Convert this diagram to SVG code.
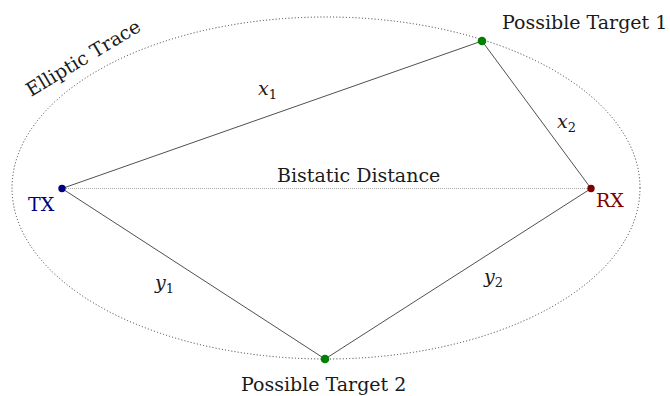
<svg xmlns="http://www.w3.org/2000/svg" width="670" height="396" viewBox="0 0 670 396">
  <style>
    text { font-family: "DejaVu Serif", "Liberation Serif", serif; font-size: 19px; fill: #1a1a1a; }
    .math { font-style: italic; }
    .sub { font-size: 13px; font-style: normal; }
    .edge { stroke: #3c3c3c; stroke-width: 0.9; fill: none; }
    .trace { stroke: #333; stroke-width: 1; stroke-dasharray: 1 2.2; fill: none; }
    .baseline { stroke: #aaa; stroke-width: 1; stroke-dasharray: 1 1; fill: none; }
  </style>
  <rect width="670" height="396" fill="#fff"/>

  <!-- elliptic trace with TX and RX as foci -->
  <g id="trace">
    <ellipse class="trace" cx="326" cy="188" rx="314" ry="171"/>
    <text transform="translate(31,97) rotate(-31)">Elliptic Trace</text>
  </g>

  <g id="connectors">
    <line class="baseline" x1="62" y1="188.5" x2="591" y2="188.5"/>
    <line class="edge" x1="62" y1="188.5" x2="482" y2="41"/>
    <line class="edge" x1="482" y1="41" x2="591" y2="188.5"/>
    <line class="edge" x1="62" y1="188.5" x2="325" y2="359"/>
    <line class="edge" x1="325" y1="359" x2="591" y2="188.5"/>
    <text x="277" y="182">Bistatic Distance</text>
    <text class="math" x="258" y="95">x<tspan class="sub" dy="4">1</tspan></text>
    <text class="math" x="557" y="128">x<tspan class="sub" dy="4">2</tspan></text>
    <text class="math" x="155" y="289">y<tspan class="sub" dy="4">1</tspan></text>
    <text class="math" x="484" y="283">y<tspan class="sub" dy="4">2</tspan></text>
  </g>

  <g id="tx">
    <circle cx="62" cy="188.5" r="3.7" fill="#000080"/>
    <text x="28" y="211" style="fill:#000080">TX</text>
  </g>
  <g id="rx">
    <circle cx="591" cy="188.5" r="3.7" fill="#800000"/>
    <text x="596" y="207" style="fill:#800000">RX</text>
  </g>
  <g id="target1">
    <circle cx="482" cy="41" r="4.3" fill="#008000"/>
    <text x="502" y="29">Possible Target 1</text>
  </g>
  <g id="target2">
    <circle cx="325" cy="359" r="4.3" fill="#008000"/>
    <text x="241" y="391">Possible Target 2</text>
  </g>
</svg>
